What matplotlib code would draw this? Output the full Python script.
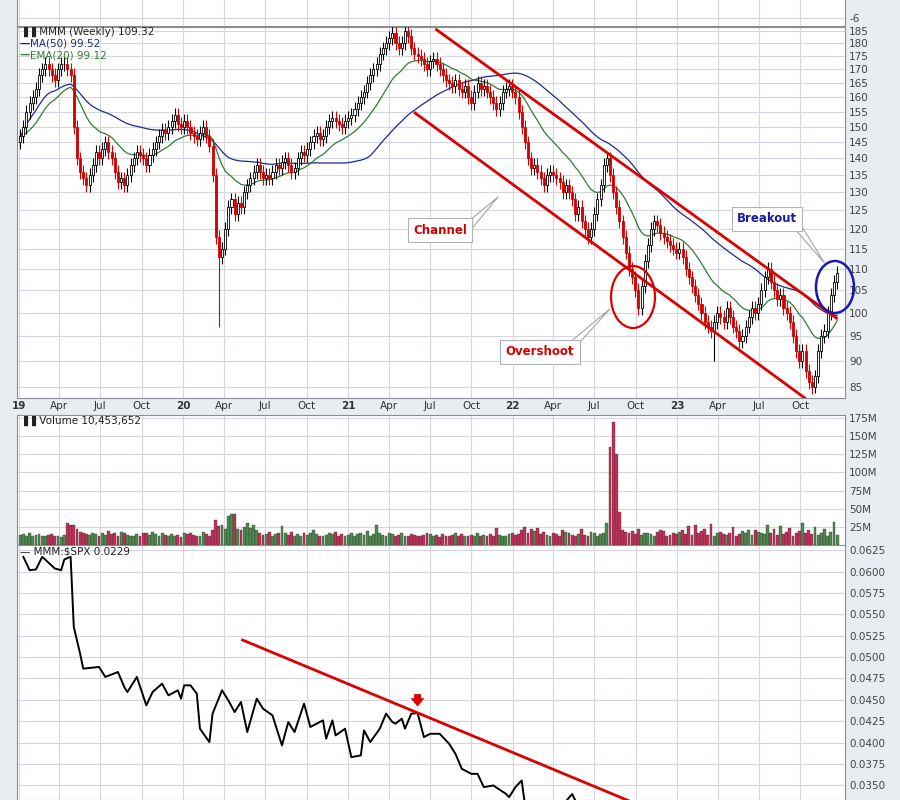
import numpy as np
import pandas as pd
import matplotlib
matplotlib.use('Agg')
import matplotlib.pyplot as plt
from matplotlib.patches import Ellipse
from matplotlib.ticker import FixedLocator, FuncFormatter, NullLocator

## Data (weekly, starting 2019-01-04)
start = pd.Timestamp('2019-01-04')
closes = [
    # 2019
    147, 150, 155, 158, 160, 163, 168, 170, 172, 170, 168, 166, 170, 172, 172, 170, 168, 150,
    140, 136, 134, 132, 135, 138, 142, 140, 143, 145, 142, 140, 136, 133, 134, 132, 135,
    138, 140, 142, 141, 140, 138, 141, 143, 145, 147, 149, 148, 150, 152, 154, 151, 150,
    # 2020
    152, 150, 148, 147, 146, 148, 150, 147, 144, 135, 118, 113, 115, 120, 126, 128, 124, 127,
    126, 130, 132, 134, 136, 138, 136, 134, 135, 134, 136, 138, 137, 139, 140, 138, 136, 137,
    140, 142, 141, 143, 145, 147, 148, 146, 147, 150, 152, 153, 152, 151, 150, 152, 153,
    # 2021
    154, 156, 158, 160, 162, 165, 168, 170, 172, 176, 178, 180, 182, 184, 180, 178, 180,
    185, 183, 178, 176, 175, 174, 172, 170, 173, 174, 172, 170, 168, 166, 165, 164, 166,
    163, 162, 164, 160, 158, 162, 165, 163, 164, 162, 160, 158, 156, 158, 162, 163, 164, 162,
    # 2022
    160, 155, 150, 145, 140, 137, 138, 136, 134, 132, 135, 136, 135, 134, 133, 130, 132,
    130, 128, 124, 126, 122, 120, 118, 120, 124, 128, 132, 138, 140, 135, 130, 126, 122,
    118, 114, 110, 108, 105, 101, 106, 112, 116, 120, 122, 121, 119, 118, 117, 116, 115, 114,
    # 2023
    115, 113, 110, 108, 106, 104, 102, 100, 98, 97, 96, 98, 100, 99, 98, 101, 99,
    97, 96, 94, 95, 97, 99, 101, 100, 102, 105, 108, 110, 107, 105, 103, 104, 101,
    100, 98, 95, 92, 90, 92, 88, 86, 85, 87, 92, 95, 96, 100, 104, 107, 109,
]
first_open = 145
low_overrides = {63: 97.0, 220: 90.0, 252: 84.0}

volume_m = [
    14, 15, 13, 16, 12, 14, 15, 13, 12, 14, 15, 13, 12, 11, 14, 30, 28, 27, 22, 18, 16, 15, 14, 17, 15, 13,
    16, 14, 19, 15, 16, 13, 18, 17, 14, 12, 13, 15, 12, 17, 16, 14, 18, 15, 13, 16, 14, 12, 15, 13, 14, 11,
    17, 15, 16, 14, 12, 13, 18, 15, 13, 20, 34, 26, 28, 22, 40, 42, 43, 22, 20, 25, 30, 24, 28, 20, 16, 14,
    15, 18, 13, 15, 17, 26, 16, 14, 18, 13, 15, 12, 16, 14, 17, 20, 15, 13, 12, 14, 16, 15, 18, 13, 15, 12, 14,
    16, 13, 15, 17, 14, 19, 12, 15, 28, 17, 14, 13, 16, 15, 12, 14, 17, 13, 12, 15, 14, 13, 12, 14, 16, 15,
    13, 14, 11, 15, 13, 12, 14, 16, 13, 15, 12, 13, 14, 12, 17, 13, 14, 12, 15, 13, 24, 14, 13, 12, 15, 16,
    14, 15, 21, 25, 17, 22, 19, 24, 15, 18, 14, 13, 17, 15, 13, 20, 18, 16, 14, 13, 15, 22, 14, 13, 18, 16,
    12, 15, 17, 30, 135, 170, 125, 45, 20, 18, 16, 19, 15, 22, 14, 16, 17, 15, 13, 18, 21, 19, 13, 14, 16, 15,
    18, 21, 15, 26, 14, 28, 17, 19, 22, 14, 29, 13, 16, 18, 15, 14, 17, 25, 13, 15, 19, 16, 21, 14, 20, 18,
    17, 15, 27, 16, 22, 14, 26, 15, 18, 24, 13, 16, 19, 30, 17, 21, 15, 25, 14, 16, 22, 13, 18, 32, 14,
]

ratio_weeks = [1, 3, 5, 7, 11, 13, 14, 16, 17, 19, 20, 25, 27, 31, 33, 34, 37, 40, 42, 45, 47, 50, 51,
               52, 54, 56, 57, 60, 61, 64, 66, 68, 70, 72, 75, 77, 80, 83, 85, 87, 90, 92, 96, 97, 99,
               100, 103, 105, 108, 109, 111, 114, 116, 118, 119, 121, 122, 124, 126, 128, 130, 133,
               136, 138, 140, 143, 145, 147, 150, 154, 155, 157, 159, 160, 163, 168, 175, 177, 181,
               200, 230, 259]
ratio_vals = [0.06172, 0.06016, 0.06024, 0.06172, 0.06035, 0.06016, 0.06141, 0.06172, 0.05353, 0.05041,
              0.04865, 0.04885, 0.04768, 0.04826, 0.04651, 0.04592, 0.04768, 0.04436, 0.04592, 0.04690,
              0.04553, 0.04612, 0.04514, 0.04670, 0.04670, 0.04573, 0.04163, 0.04007, 0.04339, 0.04612,
              0.04494, 0.04358, 0.04475, 0.04124, 0.04514, 0.04397, 0.04319, 0.03968, 0.04241, 0.04124,
              0.04456, 0.04183, 0.04261, 0.04046, 0.04261, 0.04085, 0.04163, 0.03831, 0.03851, 0.04143,
              0.04007, 0.04163, 0.04339, 0.04241, 0.04222, 0.04280, 0.04163, 0.04339, 0.04346, 0.04065,
              0.04104, 0.04104, 0.03987, 0.03870, 0.03695, 0.03636, 0.03636, 0.03480, 0.03500, 0.03402,
              0.03363, 0.03480, 0.03558, 0.03285, 0.03150, 0.03100, 0.03400, 0.03250, 0.03000,
              0.02900, 0.02600, 0.02290]

price_ticks = list(range(85, 190, 5))
vol_ticks = [25, 50, 75, 100, 125, 150, 175]
ratio_ticks = [0.0350, 0.0375, 0.0400, 0.0425, 0.0450, 0.0475, 0.0500, 0.0525, 0.0550, 0.0575, 0.0600, 0.0625]

# channel / trend line anchors (week, value)
upper_channel = [(132, 185.4), (258.8, 98.8)]
lower_channel = [(125.2, 154.6), (251.9, 81.7)]
ratio_trend = [(70.5, 0.0520), (193, 0.0332)]

## Derived
n = len(closes)
x = np.arange(n)
opens = [first_open] + closes[:-1]
s = pd.Series(closes, dtype=float)
ma50 = s.rolling(50, min_periods=1).mean()
ema20 = s.ewm(span=20, adjust=False).mean()

def week_of(d):
    return (pd.Timestamp(d) - start).days / 7.0

qticks, qlabels = [], []
for yr in range(2019, 2024):
    for m, lab in [(1, str(yr)[2:]), (4, 'Apr'), (7, 'Jul'), (10, 'Oct')]:
        qticks.append(week_of(f'{yr}-{m:02d}-01'))
        qlabels.append(lab)

W, H = 900, 800
def fx(px): return px / W
def fy(py): return 1 - py / H

BG = '#e9ecf0'
GRID = '#d4d8de'
RED = '#dd0000'
fig = plt.figure(figsize=(9, 8), dpi=100, facecolor=BG)

def panel(top, bottom):
    ax = fig.add_axes([fx(17), fy(bottom), fx(845 - 17), (bottom - top) / H])
    ax.set_facecolor('white')
    ax.yaxis.tick_right()
    ax.tick_params(axis='y', labelsize=7.5, colors='#444', length=0, pad=3)
    ax.set_xlim(-1, 261.5)
    ax.set_xticks(qticks)
    ax.tick_params(axis='x', length=0, labelbottom=False)
    ax.grid(True, color=GRID, lw=0.8)
    ax.set_axisbelow(True)
    for sp in ax.spines.values():
        sp.set_color('#8a8f96')
        sp.set_linewidth(0.8)
    return ax

# top strip (cropped indicator)
ax0 = panel(-20, 26)
ax0.set_ylim(-8, 4)
ax0.set_yticks([-6])
ax0.set_yticklabels(['-6'])

## Price panel
ax = panel(27, 398)
ax.set_yscale('log')
ax.set_ylim(83.0, 186.5)
ax.yaxis.set_major_locator(FixedLocator(price_ticks))
ax.yaxis.set_minor_locator(NullLocator())
ax.yaxis.set_major_formatter(FuncFormatter(lambda v, p: f'{v:.0f}'))
ax.tick_params(axis='x', labelbottom=True, labelsize=7.5, colors='#333', pad=2)
ax.set_xticklabels(qlabels)
for lbl in ax.get_xticklabels():
    if lbl.get_text().isdigit():
        lbl.set_fontweight('bold')

for i in range(n):
    o, c = opens[i], closes[i]
    hi = max(o, c) * 1.015
    lo = low_overrides.get(i, min(o, c) * 0.985)
    up = c >= o
    col = 'black' if up else '#d40000'
    ax.vlines(i, lo, hi, color=col, lw=0.8, zorder=3)
    ax.bar(i, abs(c - o) if abs(c - o) > 0.2 else 0.2, bottom=min(o, c), width=0.65,
           color='white' if up else '#d40000', edgecolor=col, lw=0.6, zorder=4)

ax.plot(x, ma50, color='#1f2a8a', lw=0.9, zorder=2)
ax.plot(x, ema20, color='#2e7d32', lw=0.9, zorder=2)
for (x0, y0), (x1, y1) in [upper_channel, lower_channel]:
    ax.plot([x0, x1], [y0, y1], color=RED, lw=2, zorder=5)

fig.text(fx(20), fy(32), '\u2590\u2590 MMM (Weekly) 109.32', fontsize=7.5, va='center', color='#222')
fig.text(fx(20), fy(44), '\u2014', fontsize=7.5, va='center', color='#1f2a8a', fontweight='bold')
fig.text(fx(30), fy(44), 'MA(50) 99.52', fontsize=7.5, va='center', color='#1f2a8a')
fig.text(fx(20), fy(55), '\u2014', fontsize=7.5, va='center', color='#2e7d32', fontweight='bold')
fig.text(fx(30), fy(55), 'EMA(20) 99.12', fontsize=7.5, va='center', color='#2e7d32')

# annotations
def callout(text, bx, by, tx, ty, color):
    fig.text(fx(bx), fy(by), text, fontsize=8.5, fontweight='bold', color=color, ha='center', va='center',
             bbox=dict(boxstyle='square,pad=0.45', fc='white', ec='#b0b4ba', lw=0.8), zorder=10)
    fig.add_artist(matplotlib.patches.FancyArrowPatch(
        (fx(bx + 25), fy(by)), (fx(tx), fy(ty)), transform=fig.transFigure,
        arrowstyle='wedge,tail_width=6,shrink_factor=0.5', fc='white', ec='#a0a4aa', lw=0.8, zorder=9))

callout('Channel', 440, 230, 500, 195, '#d40000')
callout('Overshoot', 540, 352, 612, 307, '#d40000')
callout('Breakout', 767, 219, 826, 265, '#1a1aa0')
fig.add_artist(Ellipse((fx(633), fy(297)), fx(44), 62 / H, transform=fig.transFigure,
                       fill=False, ec=RED, lw=1.6, zorder=8))
fig.add_artist(Ellipse((fx(835), fy(287)), fx(38), 52 / H, transform=fig.transFigure,
                       fill=False, ec='#1a1ab0', lw=1.8, zorder=8))

## Volume panel
axv = panel(415, 545)
axv.set_ylim(0, 179)
axv.set_yticks(vol_ticks)
axv.set_yticklabels([f'{v}M' for v in vol_ticks])
vcols = ['#4f8a4f' if closes[i] >= opens[i] else '#c4305a' for i in range(n)]
axv.bar(x, volume_m, width=0.9, color=vcols, edgecolor='#333', lw=0.25, zorder=3)
fig.text(fx(20), fy(421), '\u2590\u2590 Volume 10,453,652', fontsize=7.5, va='center', color='#222')

## Ratio panel
axr = panel(545, 800)
axr.set_ylim(0.0333, 0.0631)
axr.set_yticks(ratio_ticks)
axr.set_yticklabels([f'{v:.4f}' for v in ratio_ticks])
axr.plot(ratio_weeks, ratio_vals, color='black', lw=1.4, zorder=3)
axr.plot([ratio_trend[0][0], ratio_trend[1][0]], [ratio_trend[0][1], ratio_trend[1][1]],
         color=RED, lw=2, zorder=4)
axr.annotate('', xy=(126, 0.0439), xytext=(126, 0.0460),
             arrowprops=dict(arrowstyle='simple,head_width=1.0,head_length=0.6,tail_width=0.5',
                             color=RED, lw=0), zorder=5)
fig.text(fx(20), fy(551), '\u2014 MMM:$SPX 0.0229', fontsize=7.5, va='center', color='#222')

fig.savefig('out.png', dpi=100, facecolor=BG)
